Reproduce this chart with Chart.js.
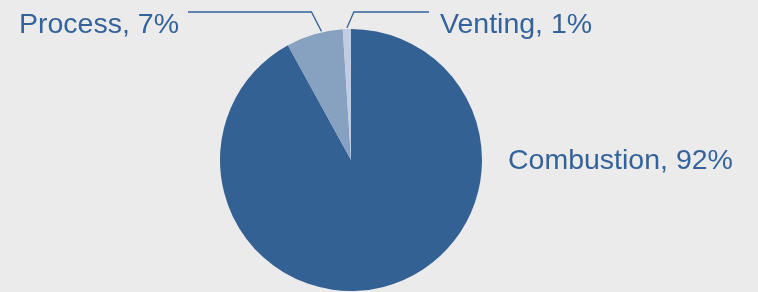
<!DOCTYPE html>
<html>
<head>
<meta charset="utf-8">
<script src="https://cdn.jsdelivr.net/npm/chart.js@4"></script>
<style>
  html, body { margin: 0; padding: 0; background: #ebebeb; }
  #wrap { width: 758px; height: 292px; }
</style>
</head>
<body>
<div id="wrap"><canvas id="pie" width="758" height="292"></canvas></div>
<script>
// data
const categories = ['Combustion', 'Process', 'Venting'];
const shares = [92, 7, 1];
const sliceColors = ['#336194', '#87a2c1', '#c2cce0'];

const TEXT_COLOR = '#33639a';

// where each label sits, and how its leader line bends (null = no line)
const labelLayout = [
  { x: 508, y: 169, align: 'left', leader: null },
  { x: 19, y: 33, align: 'left', leader: { elbowDx: -10, elbowY: 12, endX: 188, pos: 0.63 } },
  { x: 440, y: 33, align: 'left', leader: { elbowDx: 7, elbowY: 12, endX: 429, pos: 0.5 } },
];

const pieLabels = {
  id: 'pieLabels',
  afterDraw(chart) {
    const ctx = chart.ctx;
    const meta = chart.getDatasetMeta(0);
    ctx.save();
    ctx.font = '28.5px "Liberation Sans", Arial, sans-serif';
    ctx.fillStyle = TEXT_COLOR;
    ctx.strokeStyle = TEXT_COLOR;
    ctx.lineWidth = 1.3;
    ctx.textBaseline = 'alphabetic';
    meta.data.forEach((arc, i) => {
      const lay = labelLayout[i];
      const text = `${categories[i]}, ${shares[i]}%`;
      if (lay.leader) {
        const { x, y, startAngle, endAngle, outerRadius } = arc.getProps(['x', 'y', 'startAngle', 'endAngle', 'outerRadius'], true);
        const a = startAngle + (endAngle - startAngle) * lay.leader.pos;
        const px = x + Math.cos(a) * (outerRadius + 1);
        const py = y + Math.sin(a) * (outerRadius + 1);
        ctx.beginPath();
        ctx.moveTo(px, py);
        ctx.lineTo(px + lay.leader.elbowDx, lay.leader.elbowY);
        ctx.lineTo(lay.leader.endX, lay.leader.elbowY);
        ctx.stroke();
      }
      ctx.textAlign = lay.align;
      ctx.fillText(text, lay.x, lay.y);
    });
    ctx.restore();
  }
};

new Chart(document.getElementById('pie'), {
  type: 'pie',
  data: {
    labels: categories,
    datasets: [{
      data: shares,
      backgroundColor: sliceColors,
      borderWidth: 0,
    }],
  },
  options: {
    responsive: false,
    animation: false,
    layout: { padding: { left: 219, right: 275, top: 29, bottom: 1 } },
    plugins: { legend: { display: false }, tooltip: { enabled: false } },
  },
  plugins: [pieLabels],
});
</script>
</body>
</html>
